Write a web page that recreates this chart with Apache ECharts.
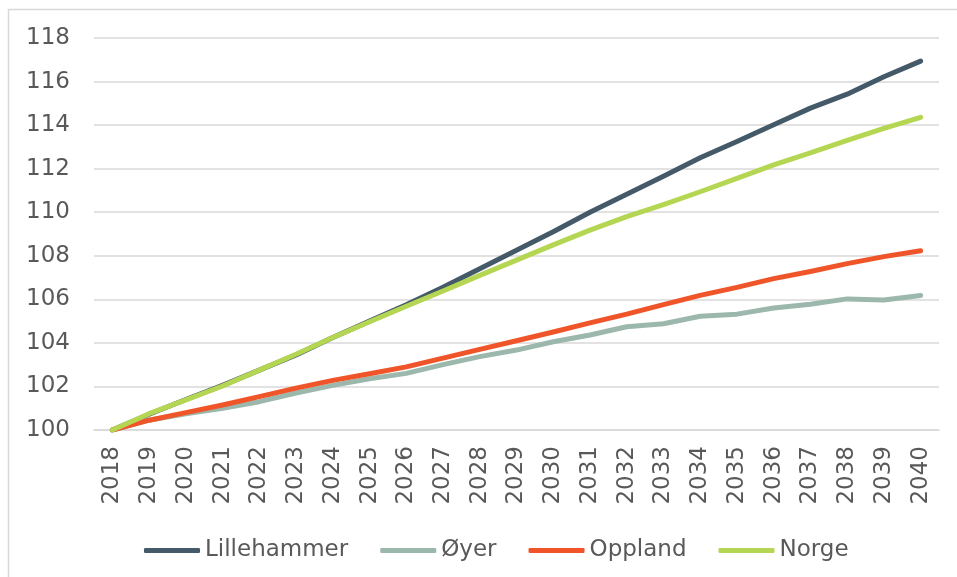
<!DOCTYPE html>
<html>
<head>
<meta charset="utf-8">
<script src="https://cdn.jsdelivr.net/npm/echarts@6/dist/echarts.min.js"></script>
<style>
  html, body { margin: 0; padding: 0; background: #fff; }
  #chart { width: 957px; height: 577px; }
</style>
</head>
<body>
<div id="chart"></div>
<script>
// år (kategorier)
var years = ['2018','2019','2020','2021','2022','2023','2024','2025','2026','2027','2028',
  '2029','2030','2031','2032','2033','2034','2035','2036','2037','2038','2039','2040'];

// indeks, 2018 = 100
var lillehammer = [100, 100.72, 101.4, 102.05, 102.75, 103.45, 104.25, 105.0, 105.75, 106.55, 107.4,
  108.25, 109.1, 110.0, 110.82, 111.65, 112.5, 113.25, 114.02, 114.78, 115.42, 116.22, 116.94];
var oyer = [100, 100.45, 100.75, 101.0, 101.3, 101.7, 102.05, 102.35, 102.6, 103.0, 103.37,
  103.67, 104.05, 104.36, 104.74, 104.88, 105.22, 105.32, 105.6, 105.77, 106.02, 105.97, 106.18];
var oppland = [100, 100.45, 100.8, 101.15, 101.53, 101.92, 102.28, 102.58, 102.9, 103.3, 103.7,
  104.1, 104.5, 104.92, 105.32, 105.76, 106.18, 106.55, 106.95, 107.28, 107.64, 107.96, 108.23];
var norge = [100, 100.75, 101.38, 102.02, 102.75, 103.48, 104.25, 104.97, 105.68, 106.38, 107.1,
  107.8, 108.5, 109.18, 109.8, 110.35, 110.94, 111.55, 112.17, 112.73, 113.3, 113.85, 114.36];

var seriesNames = ['Lillehammer', 'Øyer', 'Oppland', 'Norge'];
var seriesData = [lillehammer, oyer, oppland, norge];
var colors = ['#445a68', '#9cb8ac', '#f0552a', '#b5d652'];

var chart = echarts.init(document.getElementById('chart'), null, { renderer: 'canvas' });

var font = 'DejaVu Sans, Verdana, sans-serif';

var option = {
  animation: false,
  backgroundColor: '#fff',
  color: colors,
  graphic: [{
    type: 'rect',
    shape: { x: 8.5, y: 9.5, width: 1000, height: 1000 },
    style: { fill: 'none', stroke: '#d9d9d9', lineWidth: 1.5 },
    silent: true
  }],
  grid: { left: 94, right: 18, top: 38, bottom: 147 },
  legend: {
    left: 139,
    top: 534,
    itemWidth: 56,
    itemHeight: 5,
    itemGap: 32,
    icon: 'roundRect',
    textStyle: { color: '#595959', fontFamily: font, fontSize: 23 },
    data: seriesNames
  },
  xAxis: {
    type: 'category',
    data: years,
    boundaryGap: true,
    axisLine: { lineStyle: { color: '#d9d9d9', width: 1.5 } },
    axisTick: { show: false },
    axisLabel: {
      rotate: 90,
      margin: 16,
      color: '#595959',
      fontFamily: font,
      fontSize: 23,
      interval: 0
    }
  },
  yAxis: {
    type: 'value',
    min: 100,
    max: 118,
    interval: 2,
    axisLine: { show: false },
    axisTick: { show: false },
    splitLine: { lineStyle: { color: '#d9d9d9', width: 1.5 } },
    axisLabel: {
      margin: 24,
      color: '#595959',
      fontFamily: font,
      fontSize: 23
    }
  },
  series: seriesNames.map(function (name, i) {
    return {
      name: name,
      type: 'line',
      data: seriesData[i],
      showSymbol: false,
      symbol: 'none',
      lineStyle: { width: 5, color: colors[i], cap: 'round', join: 'round' },
      itemStyle: { color: colors[i] }
    };
  })
};

chart.setOption(option);
</script>
</body>
</html>
